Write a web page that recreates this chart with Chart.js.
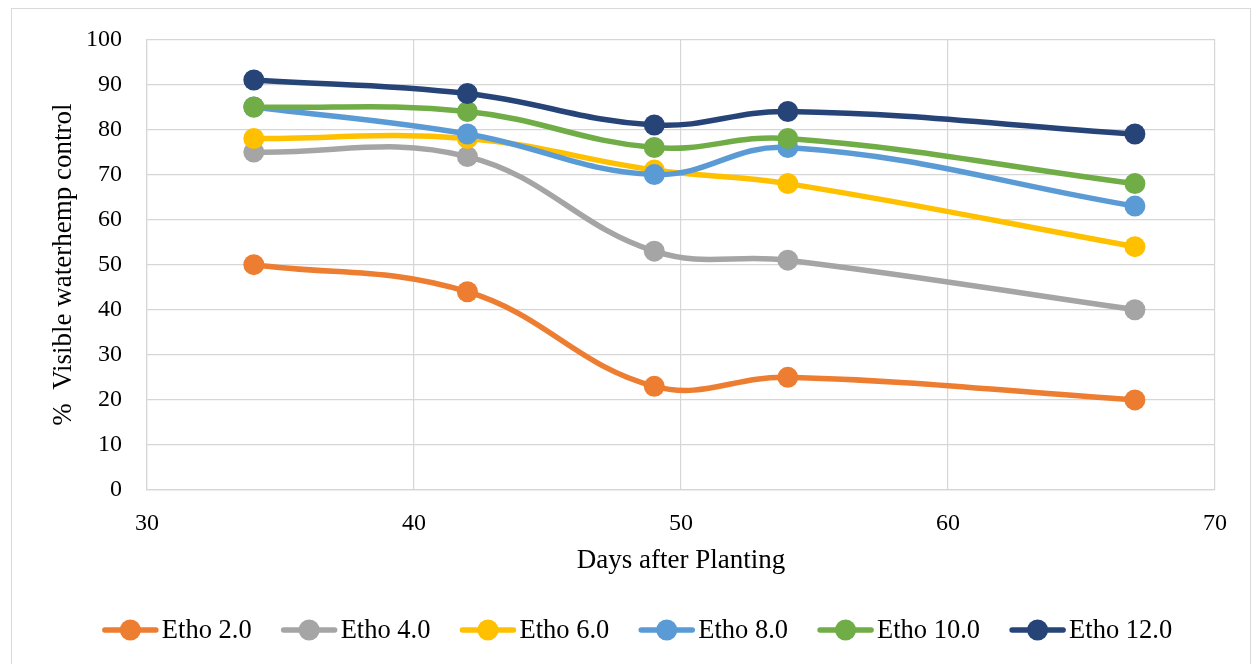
<!DOCTYPE html>
<html>
<head>
<meta charset="utf-8">
<script src="https://cdn.jsdelivr.net/npm/chart.js@4.4.1/dist/chart.umd.min.js"></script>
<style>
  html, body { margin: 0; padding: 0; background: #fff; }
  #wrap { position: relative; width: 1257px; height: 664px; overflow: hidden; }
  #frame { position: absolute; left: 11px; top: 8px; width: 1238px; height: 700px; border: 1px solid #d9d9d9; }
  canvas { position: absolute; left: 0; top: 0; }
</style>
</head>
<body>
<div id="wrap">
  <div id="frame"></div>
  <canvas id="chart" width="1257" height="664"></canvas>
</div>
<script>
// days after planting
var days = [34, 42, 49, 54, 67];

var seriesNames = ['Etho 2.0', 'Etho 4.0', 'Etho 6.0', 'Etho 8.0', 'Etho 10.0', 'Etho 12.0'];
var etho2 = [50, 44, 23, 25, 20];
var etho4 = [75, 74, 53, 51, 40];
var etho6 = [78, 78, 71, 68, 54];
var etho8 = [85, 79, 70, 76, 63];
var etho10 = [85, 84, 76, 78, 68];
var etho12 = [91, 88, 81, 84, 79];
var colors = ['#ED7D31', '#A5A5A5', '#FFC000', '#5B9BD5', '#70AD47', '#264478'];

var yTicks = [0, 10, 20, 30, 40, 50, 60, 70, 80, 90, 100];
var xTicks = [30, 40, 50, 60, 70];

var FONT = '"Liberation Serif", "Times New Roman", serif';

function makeSet(i, values) {
  return {
    label: seriesNames[i],
    data: days.map(function(d, k) { return {x: d, y: values[k]}; }),
    borderColor: colors[i],
    backgroundColor: colors[i],
    pointBackgroundColor: colors[i],
    pointBorderColor: colors[i],
    pointBorderWidth: 0,
    pointRadius: 10.5,
    pointHoverRadius: 10.5,
    borderWidth: 5.5,
    tension: 0.4,
    order: 5 - i // later series on top, like Excel
  };
}

// custom legend: line with a dot, then the name
var legendPlugin = {
  id: 'lineLegend',
  afterDraw: function(chart) {
    var ctx = chart.ctx;
    var lineLen = 57, gap = 3, spacing = 29, y = 630;
    ctx.save();
    ctx.font = '26.5px ' + FONT;
    var items = chart.data.datasets.map(function(ds) {
      return {ds: ds, w: ctx.measureText(ds.label).width};
    });
    var total = 0;
    items.forEach(function(it, i) {
      total += lineLen + gap + it.w + (i < items.length - 1 ? spacing : 0);
    });
    var x = 637 - total / 2;
    items.forEach(function(it) {
      ctx.strokeStyle = it.ds.borderColor;
      ctx.lineWidth = 5.5;
      ctx.lineCap = 'round';
      ctx.beginPath();
      ctx.moveTo(x + 3, y);
      ctx.lineTo(x + lineLen - 3, y);
      ctx.stroke();
      ctx.fillStyle = it.ds.borderColor;
      ctx.beginPath();
      ctx.arc(x + lineLen / 2, y, 10.5, 0, Math.PI * 2);
      ctx.fill();
      ctx.fillStyle = '#000';
      ctx.textBaseline = 'middle';
      ctx.textAlign = 'left';
      ctx.fillText(it.ds.label, x + lineLen + gap, y + 1);
      x += lineLen + gap + it.w + spacing;
    });
    ctx.restore();
  }
};

var ctx = document.getElementById('chart');
var chart = new Chart(ctx, {
  type: 'line',
  data: {
    datasets: [
      makeSet(0, etho2),
      makeSet(1, etho4),
      makeSet(2, etho6),
      makeSet(3, etho8),
      makeSet(4, etho10),
      makeSet(5, etho12)
    ]
  },
  options: {
    responsive: false,
    animation: false,
    layout: { padding: { left: 0, top: 38, right: 42, bottom: 84 } },
    plugins: {
      legend: { display: false },
      tooltip: { enabled: false }
    },
    scales: {
      x: {
        type: 'linear',
        min: 30,
        max: 70,
        afterBuildTicks: function(scale) {
          scale.ticks = xTicks.map(function(v) { return {value: v}; });
        },
        afterFit: function(scale) { scale.height = 90; },
        grid: { color: '#d6d6d6', lineWidth: 1.2, drawTicks: false },
        border: { color: '#d6d6d6', width: 1.2 },
        ticks: { color: '#000', padding: 19, font: { family: FONT, size: 24 } },
        title: {
          display: true,
          text: 'Days after Planting',
          color: '#000',
          padding: { top: 0, bottom: 3 },
          font: { family: FONT, size: 27 }
        }
      },
      y: {
        min: 0,
        max: 100,
        afterBuildTicks: function(scale) {
          scale.ticks = yTicks.map(function(v) { return {value: v}; });
        },
        afterFit: function(scale) { scale.width = 147; },
        grid: { color: '#d6d6d6', lineWidth: 1.2, drawTicks: false },
        border: { color: '#d6d6d6', width: 1.2 },
        ticks: { color: '#000', padding: 25, font: { family: FONT, size: 24 } },
        title: {
          display: true,
          text: '%  Visible waterhemp control',
          color: '#000',
          padding: { top: 48, bottom: 0 },
          font: { family: FONT, size: 27 }
        }
      }
    }
  },
  plugins: [legendPlugin]
});
</script>
</body>
</html>
